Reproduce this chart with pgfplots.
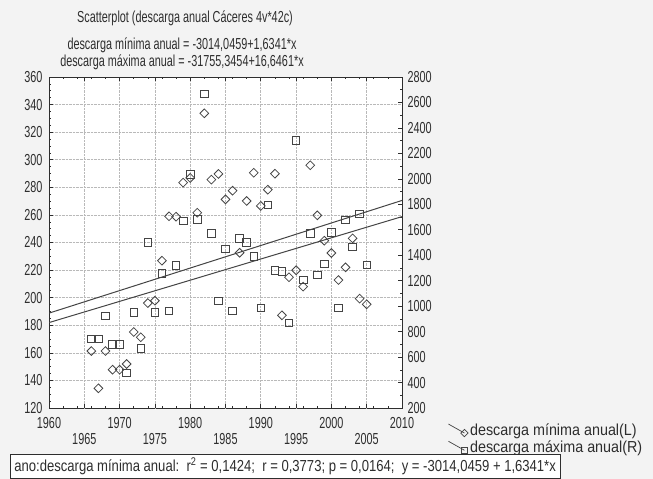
\documentclass[border=0pt]{standalone}
\usepackage{pgfplots}
\pgfplotsset{compat=1.18}
\usepackage{fontspec}
\setmainfont{Liberation Sans}[FakeStretch=0.68]
\newfontfamily\boxfont{Liberation Sans}[FakeStretch=0.82]
\newfontfamily\legfont{Liberation Sans}[FakeStretch=0.9]
\definecolor{txt}{HTML}{2E2E2E}
\definecolor{mk}{HTML}{444444}
\definecolor{bg}{HTML}{F3F3F3}
\newcommand{\fs}{\fontsize{16}{17}\selectfont}
\pgfplotsset{legdiag/.style={legend image code/.code={\draw[##1] plot coordinates {(0bp,6bp) (16bp,-3bp)};}}}
\begin{document}
\begin{tikzpicture}
\path[use as bounding box, fill=bg] (0bp,0bp) rectangle (653bp,-479bp);
\begin{axis}[
  at={(49bp,-408bp)}, anchor=south west,
  width=353bp, height=331bp, scale only axis,
  xmin=1960, xmax=2010, ymin=120, ymax=360,
  xtick={1960,1970,...,2010},
  extra x ticks={1965,1975,...,2005},
  extra x tick style={tick label style={yshift=-16bp}, grid=major},
  ytick={120,140,...,360},
  minor x tick num=4, minor y tick num=3,
  ytick pos=left,
  grid=major, grid style={densely dotted, gray!55, line width=0.6pt},
  axis background/.style={fill=white},
  axis line style={txt, line width=0.8pt},
  tick style={txt, line width=0.6pt},
  major tick length=4bp, minor tick length=2bp,
  tick label style={font=\fs, text=txt},
  /pgf/number format/assume math mode=true,
  /pgf/number format/1000 sep={},
  xticklabel style={yshift=-6bp},
  yticklabel style={xshift=-3bp},
]
\addplot[only marks, mark=square, mark options={rotate=45}, mark size=3.1, mk, line width=0.8pt] table {
x y
1966 161.3
1967 134.3
1968 161.3
1969 147.8
1970 147.8
1971 151.9
1972 175.1
1973 171.3
1974 196.1
1975 197.8
1976 226.8
1977 259.0
1978 258.7
1979 283.4
1980 286.8
1981 261.6
1982 333.7
1983 285.6
1984 289.7
1985 271.3
1986 277.6
1987 232.6
1988 270.1
1989 290.6
1990 266.5
1991 278.3
1992 289.9
1993 187.2
1994 214.8
1995 219.9
1996 208.0
1997 296.0
1998 259.7
1999 241.3
2000 232.4
2001 212.8
2002 222.0
2003 243.0
2004 199.3
2005 195.2
};
\addplot[mk, line width=1pt, no marks] coordinates {(1960,188.79) (2010,270.50)};
\end{axis}
\begin{axis}[
  at={(49bp,-408bp)}, anchor=south west,
  width=353bp, height=331bp, scale only axis,
  xmin=1960, xmax=2010, ymin=200, ymax=2800,
  axis x line=none, axis y line*=right,
  ytick={200,400,...,2800},
  minor y tick num=1,
  axis line style={txt, line width=0.8pt},
  tick style={txt, line width=0.6pt},
  major tick length=4bp, minor tick length=2bp,
  tick label style={font=\fs, text=txt},
  yticklabel style={xshift=2bp},
  /pgf/number format/assume math mode=true,
  /pgf/number format/1000 sep={},
  legend style={at={(1.13,-0.04)}, anchor=north west, draw=none, fill=none,
    font=\legfont\fs, text=txt, row sep=0bp, inner sep=0pt},
  legend cell align=left,
]
\addlegendimage{mk, mark=square, mark options={rotate=45}, mark size=2.6, line width=0.7pt, mark indices={2}, legdiag}
\addlegendentry{descarga mínima anual(L)}
\addlegendimage{mk, mark=square, mark size=3, line width=0.7pt, mark indices={2}, legdiag}
\addlegendentry{descarga máxima anual(R)}
\addplot[only marks, mark=square, mark size=3.8, mk, line width=0.8pt, forget plot] table {
x y
1966 744
1967 744
1968 923
1969 700
1970 700
1971 477
1972 949
1973 669
1974 1502
1975 949
1976 1258
1977 962
1978 1321
1979 1671
1980 2033
1981 1682
1982 2667
1983 1572
1984 1043
1985 1449
1986 962
1987 1533
1988 1499
1989 1389
1990 988
1991 1795
1992 1279
1993 1271
1994 870
1995 2300
1996 1205
1997 1572
1998 1245
1999 1331
2000 1580
2001 988
2002 1679
2003 1467
2004 1724
2005 1323
};
\addplot[mk, line width=1pt, no marks, forget plot] coordinates {(1960,871.01) (2010,1703.30)};
\end{axis}
\node[text=txt, font=\fs] at (185bp,-18bp) {Scatterplot (descarga anual Cáceres 4v*42c)};
\node[text=txt, font=\fs] at (182bp,-45bp) {descarga mínima anual = -3014,0459+1,6341*x};
\node[text=txt, font=\fs] at (182bp,-62bp) {descarga máxima anual = -31755,3454+16,6461*x};
\node[draw=txt, line width=0.8pt, anchor=west, fill=white, text=txt, font=\boxfont\fs,
  minimum height=22bp, inner xsep=4bp] at (10bp,-466.5bp)
  {ano:descarga mínima anual:\ \ r\textsuperscript{2} = 0,1424;\ \ r = 0,3773; p = 0,0164;\ \ y = -3014,0459 + 1,6341*x};
\end{tikzpicture}
\end{document}
